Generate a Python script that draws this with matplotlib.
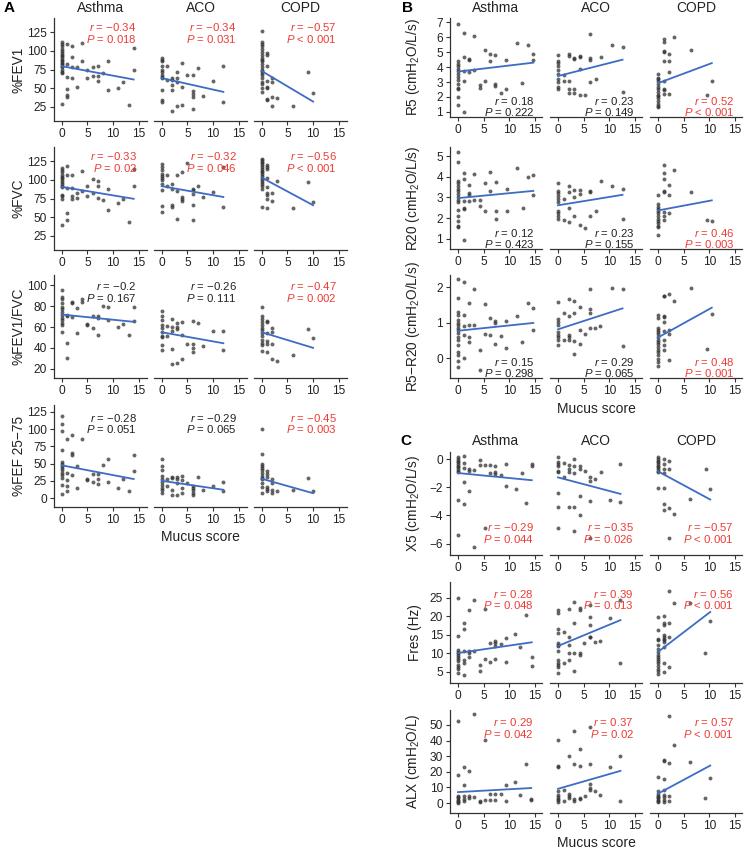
import matplotlib.pyplot as plt

plt.rcParams['font.family'] = ['Liberation Sans', 'DejaVu Sans']
plt.rcParams['mathtext.fontset'] = 'custom'
plt.rcParams['mathtext.rm'] = 'Liberation Sans'
plt.rcParams['mathtext.it'] = 'Liberation Sans:italic'

groups = ['Asthma', 'ACO', 'COPD']

# ---- data: mucus score -> list of values, per group ----
# A: spirometry
fev1_asthma = {0: [112, 109, 106, 103, 100, 97, 95, 93, 90, 88, 86, 84, 82, 80, 78, 74, 72, 70, 29],
               1: [109, 83, 65, 49, 41, 38], 2: [107, 92, 79, 64], 3: [78, 52], 4: [110, 87], 5: [74, 64],
               6: [79, 66], 7: [80, 66, 59], 8: [70], 9: [87, 48], 11: [50], 12: [58], 13: [27], 14: [104, 75]}
fev1_aco = {0: [90, 88, 86, 80, 75, 72, 68, 65, 63, 48, 34, 32], 1: [80, 61], 2: [64, 61, 54, 48, 19],
            3: [71, 64, 58, 26], 4: [84, 52, 27], 5: [68], 6: [68, 46, 42, 38, 22], 7: [77], 8: [39],
            10: [59], 12: [80, 31]}
fev1_copd = {0: [126, 112, 109, 106, 103, 99, 95, 90, 88, 86, 82, 78, 75, 73, 70, 67, 63, 58, 55, 50, 45],
             1: [97, 95, 80, 60, 52, 50, 36, 34], 2: [63, 58, 38, 26], 3: [37], 6: [26], 9: [72], 10: [44]}

fvc_asthma = {0: [116, 113, 110, 106, 104, 102, 100, 97, 95, 92, 90, 80, 78, 74, 40],
              1: [118, 107, 89, 56, 46], 2: [107, 89, 79, 74], 3: [83, 76], 4: [112, 85], 5: [92, 79],
              6: [101, 82], 7: [99, 92, 76], 8: [73], 9: [88, 60], 11: [69], 12: [74], 13: [43], 14: [115, 92]}
fvc_aco = {0: [121, 117, 113, 108, 105, 103, 100, 95, 87, 65, 57], 1: [106, 92], 2: [95, 88, 66, 64],
           3: [106, 85, 47], 4: [110, 77, 74, 71], 5: [123], 6: [88, 86, 81, 66, 46], 7: [92], 8: [77],
           10: [84], 12: [117, 63]}
fvc_copd = {0: [128, 126, 124, 122, 120, 117, 115, 112, 110, 108, 105, 102, 100, 97, 95, 92, 88, 63],
            1: [120, 117, 114, 102, 91, 82, 80, 75, 62], 2: [82, 71], 3: [99], 6: [62], 9: [97], 10: [70]}

ratio_asthma = {0: [96, 89, 87, 83, 79, 77, 74, 72, 69, 67, 64, 62, 55], 1: [72, 71, 45, 30],
                2: [84, 83, 70], 3: [78, 54], 4: [87, 84], 5: [63, 62], 6: [71, 59], 7: [71, 69, 52],
                8: [80], 9: [79, 67], 11: [60], 12: [63], 13: [52], 14: [79, 66]}
ratio_aco = {0: [75, 71, 67, 62, 59, 55, 51, 50, 43, 38], 1: [61, 51], 2: [68, 60, 56, 39, 24],
             3: [64, 60, 58, 25], 4: [65, 52, 29], 5: [44], 6: [66, 44, 40, 36], 7: [64], 8: [42],
             10: [56], 12: [56, 38]}
ratio_copd = {0: [79, 71, 68, 65, 62, 59, 57, 54, 51, 48, 45, 43, 37], 1: [66, 65, 54, 47, 44, 36],
              2: [59, 55, 44, 29], 3: [27], 6: [33], 9: [58], 10: [49]}

fef_asthma = {0: [119, 108, 97, 69, 53, 50, 47, 44, 40, 37, 34, 29, 19, 6], 1: [86, 37, 26, 17, 10],
              2: [92, 65, 63, 34], 3: [47, 15], 4: [86], 5: [28, 26], 6: [35, 24], 7: [35, 28, 21],
              8: [48], 9: [56, 24], 11: [15], 12: [27], 13: [10], 14: [63, 39]}
fef_aco = {0: [56, 46, 41, 32, 27, 23, 19, 15, 11, 7], 1: [27, 18], 2: [30, 29, 11, 5], 3: [30, 27, 22, 5],
           4: [32, 26, 15, 8], 5: [22], 6: [18, 15, 11, 7, 5], 7: [30], 8: [12], 10: [17], 12: [24, 10]}
fef_copd = {0: [100, 64, 49, 47, 44, 40, 36, 32, 29, 27, 22, 16, 8], 1: [39, 35, 31, 16, 13, 10],
            2: [27, 22, 11, 8], 3: [10], 6: [11], 9: [29], 10: [10]}

# B: resistance
r5_asthma = {0: [6.9, 4.4, 4.2, 4.1, 3.9, 3.75, 3.55, 3.35, 3.15, 2.9, 2.6, 2.5, 2.0, 1.45],
             1.1: [6.3, 4.65, 3.75, 3.1, 0.97], 2.1: [4.55, 4.45, 3.65], 3.2: [6.1, 3.8], 4.3: [2.8, 2.6],
             5.2: [5.15, 3.05], 6.2: [4.9, 4.4], 7.3: [4.8, 2.9, 2.7], 8.4: [2.25], 9.4: [4.45, 2.55],
             11.5: [5.6], 12.5: [2.95], 13.6: [5.5], 14.7: [4.9, 4.45]}
r5_aco = {0: [4.8, 4.4, 4.25, 4.05, 3.8, 3.55, 3.2, 3.0, 2.65, 2.55], 1.1: [3.45, 3.1],
          2.1: [4.85, 4.75, 3.1, 2.5, 2.25], 3.2: [4.6, 4.55, 2.5, 2.25], 4.3: [4.75, 4.65, 3.85, 2.1],
          5.2: [2.15], 6.3: [6.2, 4.6, 4.45, 3.0], 7.4: [3.2], 8.4: [4.7], 10.5: [5.5], 12.6: [5.35, 2.3]}
r5_copd = {0: [3.55, 3.3, 3.2, 3.1, 2.9, 2.65, 2.5, 2.35, 2.15, 2.05, 1.9, 1.7, 1.55, 1.4, 1.3],
           1.1: [5.9, 5.7, 5.05, 5.0, 4.4, 3.1, 2.5, 2.45, 2.2], 2.1: [4.85, 4.4, 3.7, 2.2], 3.2: [6.0],
           6.4: [5.15], 9.6: [2.1], 10.5: [3.1]}

r20_asthma = {0: [5.22, 4.7, 3.8, 3.7, 3.55, 3.4, 3.3, 3.15, 3.0, 2.9, 2.8, 2.4, 2.1, 1.85, 1.6, 1.55],
              1.1: [4.2, 3.88, 2.85, 2.5, 2.45, 0.95], 2.1: [3.6, 3.2, 3.1, 2.85], 3.2: [4.15, 2.9],
              4.3: [2.9, 2.6], 5.2: [3.7, 2.35], 6.2: [4.25, 3.3], 7.4: [3.75, 2.35, 1.95], 9.5: [3.4, 2.35],
              11.5: [4.45], 12.6: [2.5], 13.7: [4.0], 14.7: [4.1, 3.1]}
r20_aco = {0: [3.7, 3.3, 3.2, 3.05, 2.95, 2.8, 2.35, 2.25, 2.1, 1.95], 1.1: [2.95, 1.9],
           2.1: [3.55, 3.25, 2.5, 1.8], 3.2: [3.35, 3.0, 2.1], 4.3: [3.35, 3.15, 1.65], 5.2: [1.5],
           6.3: [3.3, 3.25, 2.1], 7.4: [2.35], 8.4: [3.8], 10.5: [3.55], 12.6: [3.4, 1.95]}
r20_copd = {0: [3.1, 2.7, 2.55, 2.45, 2.35, 2.25, 2.1, 1.95, 1.85, 1.75, 1.6, 1.55, 1.2],
            1.1: [4.6, 4.2, 3.9, 3.3, 3.25, 2.3, 2.1, 1.9], 2.1: [3.6, 3.1, 2.25], 3.1: [4.35],
            6.4: [3.25], 9.6: [1.9], 10.5: [1.85]}

diff_asthma = {0: [2.22, 1.7, 1.3, 1.2, 1.08, 0.99, 0.92, 0.85, 0.78, 0.71, 0.6, 0.5, 0.36, 0.17, 0.08, -0.07, -0.26],
               1.1: [2.13, 1.2, 0.9, 0.65, 0.0], 2.1: [1.56, 0.93, 0.6, 0.45], 3.2: [1.95, 0.93],
               4.3: [0.24, -0.33], 5.2: [1.52, 0.67], 6.2: [1.12, 0.64], 7.3: [1.05, 1.0, 0.39], 8.4: [0.63],
               9.4: [1.05, 0.28], 11.5: [1.18], 12.4: [0.44], 13.7: [1.56], 14.7: [1.4, 0.79]}
diff_aco = {0: [1.59, 1.1, 1.02, 0.93, 0.74, 0.64, 0.6, 0.52, 0.38], 1.1: [1.28, 0.52],
            2.1: [1.66, 1.18, 0.64, 0.6, 0.52], 3.2: [1.61, 1.28, 0.48, 0.12], 4.3: [1.43, 0.79, 0.41],
            5.2: [0.69], 6.2: [1.94, 1.37, 1.26, 0.86], 7.3: [0.86], 8.2: [0.9], 10.5: [1.97], 12.6: [1.95, 0.34]}
diff_copd = {0: [1.21, 1.12, 0.86, 0.8, 0.74, 0.67, 0.6, 0.52, 0.45, 0.39, 0.31, 0.24, 0.17, 0.08, -0.02, -0.11, -0.23],
             1.1: [1.75, 1.74, 1.18, 1.17, 1.02, 0.76, 0.5, 0.36, 0.24], 2.1: [1.8, 0.79, 0.69, -0.05],
             3.2: [1.62], 6.5: [1.97], 9.6: [0.27], 10.5: [1.24]}

# C: reactance
x5_asthma = {0: [0.14, 0, -0.12, -0.24, -0.35, -0.47, -0.59, -0.7, -0.82, -0.94, -2.92, -5.41],
             1.1: [0.19, -0.28, -0.64, -1.65, -3.15], 2.1: [-0.7, -0.87, -2.24], 3.2: [-0.8, -6.2],
             4.3: [-0.05, -0.4], 5.2: [-0.4, -4.87], 6.2: [-0.45, -0.99], 7.3: [-0.52, -0.94, -1.04],
             8.3: [-1.1], 9.4: [-0.35, -1.93], 11.3: [-2.09], 12.4: [-0.99], 13.2: [-3.1], 14.4: [-0.35, -0.52]}
x5_aco = {0: [0.12, -0.24, -0.33, -0.47, -0.87, -0.94, -2.4, -3.39, -4.87], 1.1: [-0.28, -1.27],
          2.1: [-0.4, -0.7, -0.94, -3.39], 3.2: [0, -0.52, -0.99, -3.39, -5.1], 4.2: [-0.52, -0.7, -2.64, -3.93],
          5.2: [-0.87], 6.2: [-1.27, -1.58, -2.94, -5.58], 7.2: [-1.41], 8.3: [-0.92], 10.2: [-2.92],
          12.2: [-0.33, -3.06]}
x5_copd = {0: [0.14, 0, -0.12, -0.24, -0.35, -0.47, -0.59, -0.7, -0.82, -0.94, -2.05],
           1.1: [0, -0.35, -0.7, -0.99, -2.05, -3.15, -3.62], 2.1: [-0.16, -0.7, -3.46, -5.58],
           3.2: [-3.86], 6.2: [-2.82], 9.3: [-0.7], 10.2: [-2.12]}

fres_asthma = {0: [25, 14.6, 10.9, 10.4, 10.0, 9.5, 9.1, 8.6, 7.9, 6.8, 6.4, 5.7, 4.8],
               1.1: [18.3, 16.5, 10.6, 8.2, 7.3, 4.1], 2.1: [21.7, 10.6, 10.0, 9.1], 3.2: [24.5, 10.6],
               4.3: [6.8, 5.2], 5.2: [21.9, 8.4], 6.2: [12.7, 7.7], 7.3: [13.3, 12.7, 12.0, 8.6], 8.3: [12.5],
               9.3: [14.1, 7.7], 11.2: [15.2], 12.2: [11.6], 13.3: [20.3], 14.4: [9.1, 6.6]}
fres_aco = {0: [21.8, 20.8, 16.5, 15.4, 12.8, 12.4, 12.0, 10.6, 8.2, 7.5, 7.0, 6.4, 4.6], 1.1: [15.8, 7.5],
            2.1: [21.9, 14.4, 12.4, 10.2, 8.2], 3.2: [23.9, 18.3, 10.2, 5.2], 4.2: [22.4, 21.8, 10.0, 9.5],
            5.1: [12.7], 6.2: [23.2, 19.9, 17.6, 14.4, 14.3], 7.2: [13.1], 8.2: [13.4], 10.2: [19.6],
            12.2: [24.4, 7.3]}
fres_copd = {0: [19.9, 16.3, 13.8, 13.6, 12.2, 11.1, 10.4, 9.7, 9.1, 8.4, 7.9, 7.3, 6.6, 5.9, 5.2, 4.5],
             1.1: [20.1, 18.1, 17.8, 15.1, 14.5, 14.0, 13.6, 13.1, 11.8, 7.5, 5.0], 2.1: [26.8, 18.3, 14.5, 6.4],
             3.2: [23.5], 6.2: [23.5], 9.2: [10.1], 10.2: [18.7]}

alx_asthma = {0: [52.8, 18.1, 4.7, 3.8, 3.0, 2.1, 1.3, 0.4, 0], 1.1: [23, 11.3, 4.3, 2.6, 1.1],
              2.1: [20.2, 4.3, 3.2], 3.2: [57, 3.8], 4.3: [1.1, 0.4], 5.2: [40.4, 1.7], 6.2: [5.5, 1.7],
              7.2: [5.5, 2.1], 8.3: [6.0], 9.3: [11.3, 1.5], 11.2: [13.2], 12.2: [5.3], 13.2: [24.9], 14.3: [2.6, 1.7]}
alx_aco = {0: [40.4, 23.4, 23, 7.4, 5.3, 3.8, 2.6, 1.7, 0.4], 1.1: [8.5, 1.1], 2.1: [30.2, 6.0, 4.7, 3.2],
           3.1: [46.4, 24.9, 2.6, 1.1], 4.2: [34.5, 23.8, 3.2, 2.6], 5.2: [4.7], 6.2: [48.5, 25.1, 12.3, 9.6, 8.5],
           7.2: [7.4], 8.2: [5.3], 10.2: [23], 12.2: [30.4, 1.1]}
alx_copd = {0: [16.6, 7.4, 6.0, 4.7, 3.8, 3.0, 2.1, 1.3, 0.4], 1.1: [27.7, 27.2, 15.3, 8.5, 5.3, 3.8, 2.1, 0.4],
            2.1: [55.7, 25.5, 4.7, 1.1], 3.2: [37.2], 6.2: [26.6], 9.2: [3.2], 10.2: [16]}

# regression lines: value at score 0 and at the largest score (Asthma, ACO, COPD)
fev1_fit = [(79.5, 61.6), (63.5, 45), (73, 32)]
fvc_fit = [(90.6, 74.6), (91.5, 77), (103, 66)]
ratio_fit = [(72, 65), (55, 44.4), (55, 40)]
fef_fit = [(47.5, 27.6), (25, 12), (28, 7)]
r5_fit = [(3.7, 4.3), (3.4, 4.5), (2.92, 4.27)]
r20_fit = [(2.97, 3.32), (2.62, 3.13), (2.37, 2.86)]
diff_fit = [(0.77, 0.99), (0.81, 1.4), (0.58, 1.42)]
x5_fit = [(-0.99, -1.5), (-1.3, -2.47), (-0.87, -2.87)]
fres_fit = [(10.1, 13.0), (12.0, 19.0), (10.4, 21.2)]
alx_fit = [(7.0, 9.6), (9.1, 20.6), (6.0, 24)]

# correlation results (Asthma, ACO, COPD)
fev1_r, fev1_p = ['−0.34', '−0.34', '−0.57'], ['= 0.018', '= 0.031', '< 0.001']
fvc_r, fvc_p = ['−0.33', '−0.32', '−0.56'], ['= 0.02', '= 0.046', '< 0.001']
ratio_r, ratio_p = ['−0.2', '−0.26', '−0.47'], ['= 0.167', '= 0.111', '= 0.002']
fef_r, fef_p = ['−0.28', '−0.29', '−0.45'], ['= 0.051', '= 0.065', '= 0.003']
r5_r, r5_p = ['0.18', '0.23', '0.52'], ['= 0.222', '= 0.149', '< 0.001']
r20_r, r20_p = ['0.12', '0.23', '0.46'], ['= 0.423', '= 0.155', '= 0.003']
diff_r, diff_p = ['0.15', '0.29', '0.48'], ['= 0.298', '= 0.065', '= 0.001']
x5_r, x5_p = ['−0.29', '−0.35', '−0.57'], ['= 0.044', '= 0.026', '< 0.001']
fres_r, fres_p = ['0.28', '0.39', '0.56'], ['= 0.048', '= 0.013', '< 0.001']
alx_r, alx_p = ['0.29', '0.37', '0.57'], ['= 0.042', '= 0.02', '< 0.001']

# ---- layout (pixels) ----
W, H = 744, 849
fig = plt.figure(figsize=(W / 100, H / 100), dpi=100)

RED, DARK = '#ee3b35', '#222222'
DOT, BLUE = '#333333', '#3d6cc4'


def box(left, top, width, height):
    return [left / W, 1 - (top + height) / H, width / W, height / H]


def significant(p):
    return p.startswith('<') or float(p[2:]) < 0.05


def draw_row(lefts, width, top, height, xlim, sets, fits, rs, ps, ylabel, ylim, yticks, txt_x, txt_y):
    for i, (left, pts, fit, r, p) in enumerate(zip(lefts, sets, fits, rs, ps)):
        ax = fig.add_axes(box(left, top, width, height))
        xs = [k for k, v in pts.items() for _ in v]
        ys = [y for v in pts.values() for y in v]
        ax.scatter(xs, ys, s=8, color=DOT, alpha=0.75, linewidths=0, zorder=3)
        ax.plot([0, max(pts)], fit, color=BLUE, lw=1.3, zorder=4)
        ax.set_xlim(*xlim)
        ax.set_ylim(*ylim)
        ax.set_xticks([0, 5, 10, 15])
        ax.spines[['top', 'right']].set_visible(False)
        for s in ax.spines.values():
            s.set_linewidth(0.9)
            s.set_color('#333333')
        ax.tick_params(length=3, width=0.8, labelsize=8.6, colors='#333333', labelcolor=DARK, pad=2)
        if i == 0:
            ax.set_yticks(yticks)
            ax.set_ylabel(ylabel, fontsize=9.8, color=DARK)
            ax.yaxis.set_label_coords(-0.305, 0.5)
        else:
            ax.spines['left'].set_visible(False)
            ax.set_yticks([])
        col = RED if significant(p) else DARK
        ax.text(txt_x, txt_y[0], '$r$ = ' + r, transform=ax.transAxes, ha='right', va='center',
                fontsize=8.2, color=col)
        ax.text(txt_x, txt_y[1], '$P$ ' + p, transform=ax.transAxes, ha='right', va='center',
                fontsize=8.2, color=col)


def headers(letter, lx, ly, lefts, width, ty):
    fig.text(lx / W, 1 - ly / H, letter, fontsize=11, fontweight='bold', ha='left', va='center')
    for left, g in zip(lefts, groups):
        fig.text((left + width / 2) / W, 1 - ty / H, g, fontsize=10, ha='center', va='center', color=DARK)


A_left, A_w, A_xlim = [54, 154, 254], 93, (-1.5, 16.6)
B_left, B_w, B_xlim = [450, 550, 650], 92, (-1.56, 16.4)
top_txt, bot_txt = (0.91, 0.80), (0.16, 0.05)

# panel A
headers('A', 4, 8, A_left, A_w, 8)
draw_row(A_left, A_w, 18, 103, A_xlim, [fev1_asthma, fev1_aco, fev1_copd], fev1_fit, fev1_r, fev1_p,
         '%FEV1', (6, 144), [25, 50, 75, 100, 125], 0.89, top_txt)
draw_row(A_left, A_w, 147, 103, A_xlim, [fvc_asthma, fvc_aco, fvc_copd], fvc_fit, fvc_r, fvc_p,
         '%FVC', (6, 144), [25, 50, 75, 100, 125], 0.89, top_txt)
draw_row(A_left, A_w, 275, 103, A_xlim, [ratio_asthma, ratio_aco, ratio_copd], ratio_fit, ratio_r, ratio_p,
         '%FEV1/FVC', (11, 110), [20, 40, 60, 80, 100], 0.89, (0.89, 0.78))
draw_row(A_left, A_w, 405, 102, A_xlim, [fef_asthma, fef_aco, fef_copd], fef_fit, fef_r, fef_p,
         '%FEF 25−75', (-13, 135), [0, 25, 50, 75, 100, 125], 0.89, (0.87, 0.76))
fig.text(200 / W, 1 - 537 / H, 'Mucus score', fontsize=10, ha='center', va='center', color=DARK)

# panel B
headers('B', 402, 8, B_left, B_w, 8)
draw_row(B_left, B_w, 18, 99, B_xlim, [r5_asthma, r5_aco, r5_copd], r5_fit, r5_r, r5_p,
         'R5 (cmH$_2$O/L/s)', (0.65, 7.3), [1, 2, 3, 4, 5, 6, 7], 0.92, bot_txt)
draw_row(B_left, B_w, 147, 102, B_xlim, [r20_asthma, r20_aco, r20_copd], r20_fit, r20_r, r20_p,
         'R20 (cmH$_2$O/L/s)', (0.5, 5.45), [1, 2, 3, 4, 5], 0.92, bot_txt)
draw_row(B_left, B_w, 275, 103, B_xlim, [diff_asthma, diff_aco, diff_copd], diff_fit, diff_r, diff_p,
         'R5−R20 (cmH$_2$O/L/s)', (-0.56, 2.34), [0, 1, 2], 0.92, bot_txt)
fig.text(596 / W, 1 - 409 / H, 'Mucus score', fontsize=10, ha='center', va='center', color=DARK)

# panel C
headers('C', 400, 441, B_left, B_w, 441)
draw_row(B_left, B_w, 452, 103, B_xlim, [x5_asthma, x5_aco, x5_copd], x5_fit, x5_r, x5_p,
         'X5 (cmH$_2$O/L/s)', (-6.8, 0.5), [-6, -4, -2, 0], 0.91, (0.27, 0.16))
draw_row(B_left, B_w, 582, 101, B_xlim, [fres_asthma, fres_aco, fres_copd], fres_fit, fres_r, fres_p,
         'Fres (Hz)', (2, 29.3), [5, 10, 15, 20, 25], 0.91, (0.88, 0.77))
draw_row(B_left, B_w, 710, 103, B_xlim, [alx_asthma, alx_aco, alx_copd], alx_fit, alx_r, alx_p,
         'ALX (cmH$_2$O/L)', (-6.4, 59.6), [0, 10, 20, 30, 40, 50], 0.91, (0.88, 0.77))
fig.text(596 / W, 1 - 843 / H, 'Mucus score', fontsize=10, ha='center', va='center', color=DARK)

fig.savefig('out.png', dpi=100)
